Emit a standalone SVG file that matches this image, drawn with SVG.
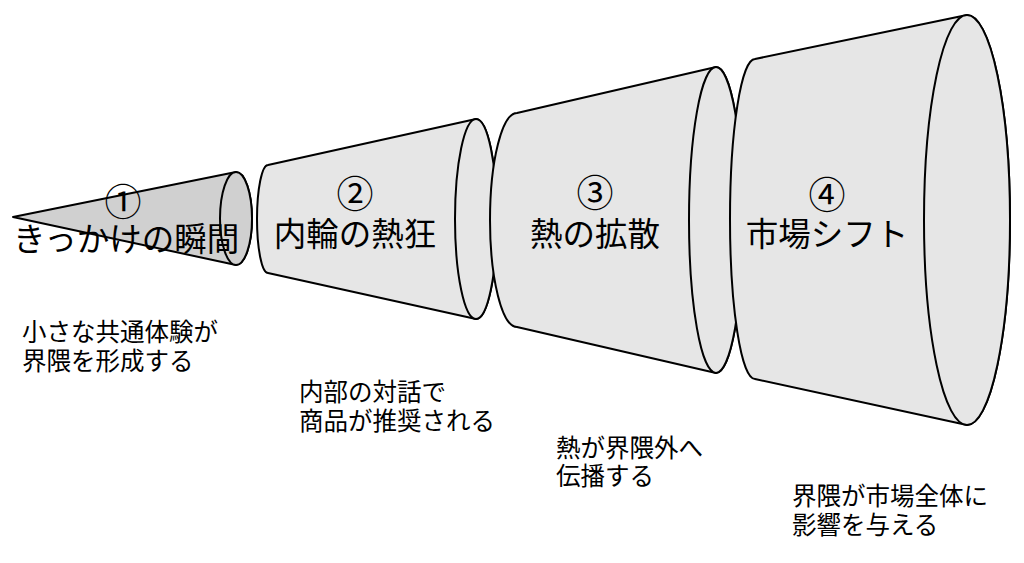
<svg xmlns="http://www.w3.org/2000/svg" width="1024" height="563" viewBox="0 0 1024 563">
<style>
.shape{stroke:#000;stroke-width:2;stroke-linejoin:round}
.light{fill:#e6e6e6}
.dark{fill:#d0d0d0}
.lbl{font-family:"Noto Sans CJK JP","Noto Sans",sans-serif;font-size:32.5px;fill:#000}
.num{font-family:"Noto Sans CJK JP","Noto Sans",sans-serif;font-size:37px;fill:#000;text-anchor:middle;dominant-baseline:central}
.desc{font-family:"Noto Sans CJK JP","Noto Sans",sans-serif;font-size:24.5px;fill:#000}
</style>
<rect width="1024" height="563" fill="#fff"/>
<g id="node1">
<path class="shape dark" d="M13,217 L236,172 A16,46.5 0 0 1 236,265 Z"/>
<ellipse class="shape dark" cx="236" cy="218.5" rx="16" ry="46.5"/>
<text class="num" x="123" y="200">①</text>
<text class="lbl" x="13" y="251">きっかけの瞬間</text>
</g>
<g id="node2">
<path class="shape light" d="M268,165 L476,119 A21,100 0 0 1 476,319 L268,273 A11,54 0 0 1 268,165 Z"/>
<ellipse class="shape light" cx="476" cy="219" rx="21" ry="100"/>
<text class="num" x="355" y="192">②</text>
<text class="lbl" x="355" y="246" text-anchor="middle">内輪の熱狂</text>
</g>
<g id="node3">
<path class="shape light" d="M517,113 L716,67 A27,153 0 0 1 716,373 L517,327 A27,107 0 0 1 517,113 Z"/>
<ellipse class="shape light" cx="716" cy="220" rx="27" ry="153"/>
<text class="num" x="595" y="191">③</text>
<text class="lbl" x="595" y="246" text-anchor="middle">熱の拡散</text>
</g>
<g id="node4">
<path class="shape light" d="M755,59 L967,15 A43,205 0 0 1 967,425 L755,379 A25,160 0 0 1 755,59 Z"/>
<ellipse class="shape light" cx="967" cy="220" rx="43" ry="205"/>
<text class="num" x="827" y="193">④</text>
<text class="lbl" x="827" y="246" text-anchor="middle">市場シフト</text>
</g>
<g id="connectors"></g>
<g id="descriptions">
<text class="desc" x="22" y="341">小さな共通体験が</text>
<text class="desc" x="22" y="370">界隈を形成する</text>
<text class="desc" x="299" y="401">内部の対話で</text>
<text class="desc" x="299" y="430">商品が推奨される</text>
<text class="desc" x="556" y="457">熱が界隈外へ</text>
<text class="desc" x="556" y="485">伝播する</text>
<text class="desc" x="792" y="505">界隈が市場全体に</text>
<text class="desc" x="792" y="534">影響を与える</text>
</g>
</svg>
